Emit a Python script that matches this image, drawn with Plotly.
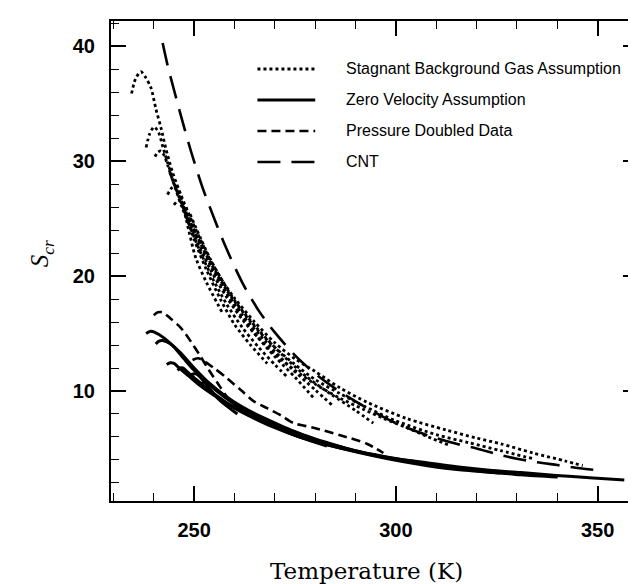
import plotly.graph_objects as go

# ---------------- data ----------------
# Stagnant Background Gas Assumption (dotted curves)
stag1_T = [234.5, 235.5, 236.8, 238.0, 239.3, 240.5, 241.8, 243.0, 244.6, 246.7, 248.8, 251.0, 254.0, 257.0, 260.0, 265.0, 270.0, 275.0, 280.0, 286.0, 293.0, 302.7, 312.5, 320.0, 326.0, 334.0, 342.0, 346.3]
stag1_S = [35.9, 37.2, 37.8, 37.3, 36.4, 34.6, 32.9, 31.1, 29.1, 27.1, 25.3, 23.6, 21.4, 19.6, 18.1, 16.0, 14.2, 12.8, 11.7, 10.3, 9.0, 7.6, 6.6, 5.9, 5.4, 4.6, 3.9, 3.5]
stag2_T = [238.1, 239.0, 240.1, 241.2, 242.3, 243.5, 245.0, 247.0, 250.0, 254.0, 258.0, 262.0, 266.0, 270.0, 275.0, 280.0, 286.0, 292.0, 300.0, 310.0, 318.0, 326.0, 334.0]
stag2_S = [31.2, 32.4, 33.0, 32.5, 31.2, 29.8, 28.2, 26.4, 24.0, 21.2, 18.8, 16.9, 15.2, 13.8, 12.3, 11.0, 9.8, 8.7, 7.4, 6.2, 5.5, 4.8, 4.1]
stag3_T = [240.3, 241.0, 241.8, 242.6, 243.5, 245.0, 247.0, 250.0, 254.0, 258.0, 262.0, 266.0, 270.0, 275.0, 280.0, 286.0, 292.0, 297.0, 302.7, 308.0, 313.0]
stag3_S = [30.4, 30.8, 30.9, 30.5, 29.6, 28.0, 26.0, 23.5, 20.6, 18.2, 16.2, 14.6, 13.2, 11.8, 10.6, 9.4, 8.4, 7.6, 6.8, 6.0, 5.3]
stag4_T = [243.4, 244.5, 245.5, 246.5, 248.0, 250.4, 253.0, 257.0]
stag4_S = [27.1, 27.7, 27.8, 27.2, 25.0, 21.6, 19.5, 16.8]
stag5_T = [245.0, 246.2, 247.5, 250.0, 253.0, 256.5, 260.0, 264.0, 268.1]
stag5_S = [26.2, 26.6, 25.8, 23.2, 20.6, 18.0, 15.8, 14.0, 12.4]
stag6_T = [244.0, 247.0, 250.0, 254.0, 258.0, 262.0, 266.0, 270.0, 273.0]
stag6_S = [29.0, 26.2, 23.4, 20.2, 17.6, 15.5, 13.8, 12.3, 11.25]
stag7_T = [246.0, 250.0, 255.0, 260.0, 265.0, 270.0, 275.0, 279.6]
stag7_S = [27.4, 23.9, 20.3, 17.4, 15.0, 13.0, 11.2, 9.4]
stag8_T = [248.0, 252.0, 257.0, 262.0, 268.0, 274.0, 280.0, 284.1]
stag8_S = [26.0, 22.6, 19.2, 16.6, 14.2, 12.0, 10.1, 8.8]
stag9_T = [249.0, 254.0, 260.0, 266.0, 272.0, 278.0, 284.0, 290.0, 294.4]
stag9_S = [25.4, 21.5, 17.9, 15.3, 13.1, 11.2, 9.7, 8.3, 7.2]

# Zero Velocity Assumption (solid curves)
zero1_T = [238.1, 239.2, 240.3, 242.6, 245.1, 247.5, 250.0, 252.5, 255.8, 259.0, 263.2, 267.3, 272.2, 277.0, 282.0, 287.8, 292.8, 299.0, 306.8, 315.0, 323.2, 331.0, 339.7, 348.0, 356.6]
zero1_S = [15.0, 15.2, 15.1, 14.6, 13.8, 12.8, 11.8, 11.0, 9.95, 9.1, 8.2, 7.5, 6.8, 6.2, 5.6, 5.0, 4.55, 4.15, 3.8, 3.4, 3.1, 2.9, 2.65, 2.45, 2.25]
zero2_T = [240.5, 241.3, 242.2, 244.2, 246.7, 250.0, 254.0, 258.0, 262.0, 267.0, 272.0, 278.0, 284.0, 290.0, 297.0, 302.0, 307.6]
zero2_S = [14.1, 14.35, 14.4, 14.1, 13.3, 12.0, 10.6, 9.5, 8.6, 7.7, 6.9, 6.0, 5.35, 4.8, 4.3, 4.0, 3.7]
zero3_T = [243.2, 244.1, 245.0, 246.0, 248.0, 251.0, 255.0, 260.0, 265.0, 270.0, 276.0, 282.0, 290.0, 298.0, 306.0, 314.0, 320.0, 325.7]
zero3_S = [12.3, 12.45, 12.4, 12.1, 11.5, 10.6, 9.6, 8.5, 7.6, 6.8, 6.0, 5.4, 4.7, 4.1, 3.6, 3.2, 3.0, 2.85]
zero4_T = [245.9, 246.6, 247.2, 248.2, 250.5, 254.0, 258.0, 263.0, 268.0, 274.0, 280.0, 288.0, 296.0, 305.0, 314.0, 322.0, 331.0, 340.1]
zero4_S = [11.8, 12.0, 12.0, 11.7, 11.0, 10.0, 9.0, 8.0, 7.2, 6.3, 5.6, 4.9, 4.3, 3.75, 3.3, 3.0, 2.7, 2.5]
zero5_T = [249.0, 250.5, 253.0, 256.0, 260.7]
zero5_S = [11.4, 11.5, 10.6, 9.3, 8.0]
zero6_T = [251.5, 253.0, 256.0, 260.0, 265.0, 270.0, 276.0, 282.9]
zero6_S = [10.6, 10.8, 10.0, 8.9, 7.8, 6.9, 6.0, 5.2]

# Pressure Doubled Data (dashed curves)
press1_T = [240.0, 241.0, 242.2, 244.2, 246.7, 249.2, 251.6, 253.7, 255.8, 257.8, 259.9, 262.3, 265.0]
press1_S = [16.6, 16.85, 16.85, 16.3, 15.5, 14.3, 13.0, 11.8, 10.7, 9.65, 8.8, 8.1, 7.7]
press2_T = [249.6, 251.0, 254.9, 258.2, 261.5, 264.8, 268.1, 271.4, 274.7, 279.6, 286.2, 292.8, 296.9]
press2_S = [12.7, 12.85, 12.0, 11.1, 10.1, 9.1, 8.5, 7.9, 7.2, 6.8, 6.15, 5.4, 4.6]

# CNT (long dash)
cnt_T = [242.2, 243.4, 245.1, 247.1, 249.2, 252.0, 255.0, 258.0, 262.0, 266.0, 270.0, 275.0, 280.0, 285.0, 290.0, 295.0, 300.0, 305.0, 310.0, 315.0, 320.0, 325.0, 330.0, 335.0, 340.0, 345.0, 350.0]
cnt_S = [40.3, 38.4, 36.1, 33.5, 30.9, 27.8, 25.0, 22.4, 19.4, 17.0, 15.1, 13.1, 11.5, 10.2, 9.1, 8.1, 7.2, 6.5, 5.9, 5.4, 5.0, 4.5, 4.1, 3.8, 3.55, 3.3, 3.1]

series_names = ["Stagnant Background Gas Assumption", "Zero Velocity Assumption",
                "Pressure Doubled Data", "CNT"]
x_tickvals = [250, 300, 350]
y_tickvals = [10, 20, 30, 40]

stag_curves = [(stag1_T, stag1_S), (stag2_T, stag2_S), (stag3_T, stag3_S), (stag4_T, stag4_S),
               (stag5_T, stag5_S), (stag6_T, stag6_S), (stag7_T, stag7_S), (stag8_T, stag8_S),
               (stag9_T, stag9_S)]
zero_curves = [(zero1_T, zero1_S), (zero2_T, zero2_S), (zero3_T, zero3_S), (zero4_T, zero4_S),
               (zero5_T, zero5_S), (zero6_T, zero6_S)]
press_curves = [(press1_T, press1_S), (press2_T, press2_S)]
cnt_curves = [(cnt_T, cnt_S)]

# ---------------- styles ----------------
styles = [
    dict(width=2.8, dash="3px,3px"),
    dict(width=3.0, dash="solid"),
    dict(width=2.6, dash="9px,5px"),
    dict(width=2.6, dash="23px,11px"),
]

fig = go.Figure()
for name, curves, st in zip(series_names, [stag_curves, zero_curves, press_curves, cnt_curves], styles):
    for i, (t, s) in enumerate(curves):
        fig.add_trace(go.Scatter(
            x=t, y=s, mode="lines", name=name, legendgroup=name, showlegend=False,
            line=dict(color="black", width=st["width"], dash=st["dash"], shape="spline", smoothing=0.8),
            hoverinfo="skip"))

# ---------------- layout ----------------
W, H = 636, 584
PL, PR, PT, PB = 103, 632, 13, 493


def px_x(p):
    return (p - PL) / (PR - PL)


def px_y(p):
    return (PB - p) / (PB - PT)


shapes = []
annotations = []
legend_rows = [61, 92, 123, 154]
for name, st, row in zip(series_names, styles, legend_rows):
    shapes.append(dict(type="line", xref="paper", yref="paper",
                       x0=px_x(250), x1=px_x(308), y0=px_y(row), y1=px_y(row),
                       line=dict(color="black", width=st["width"], dash=st["dash"])))
    annotations.append(dict(xref="paper", yref="paper", x=px_x(337), y=px_y(row),
                            xanchor="left", yanchor="middle", showarrow=False, text=name,
                            font=dict(family="Liberation Sans, Arial, sans-serif", size=16, color="black")))

annotations.append(dict(xref="paper", yref="paper", x=px_x(359), y=px_y(563),
                        xanchor="center", yanchor="middle", showarrow=False,
                        text="Temperature (K)",
                        font=dict(family="DejaVu Serif, serif", size=23, color="black")))
annotations.append(dict(xref="paper", yref="paper", x=px_x(33), y=px_y(246),
                        xanchor="center", yanchor="middle", showarrow=False, textangle=-90,
                        text="<i>S</i><sub><i>cr</i></sub>",
                        font=dict(family="Liberation Serif, Times New Roman, serif", size=25, color="black")))

tickfont = dict(family="Liberation Sans, Arial, sans-serif", size=20, color="black", weight="bold")

fig.update_layout(
    width=W, height=H,
    margin=dict(l=PL, r=W - PR, t=PT, b=H - PB, pad=0),
    paper_bgcolor="white", plot_bgcolor="white",
    showlegend=False,
    shapes=shapes, annotations=annotations,
    xaxis=dict(range=[229.4, 360.0], tickvals=x_tickvals, ticks="inside", ticklen=15, tickwidth=1.6,
               tickcolor="black", showline=True, linewidth=2, linecolor="black", mirror="ticks",
               showgrid=False, zeroline=False, tickfont=tickfont, ticklabelstandoff=10,
               minor=dict(dtick=10, tick0=0, ticks="inside", ticklen=8, tickwidth=1.4,
                          tickcolor="black", showgrid=False)),
    yaxis=dict(range=[0.42, 42.22], tickvals=y_tickvals, ticks="inside", ticklen=15, tickwidth=1.6,
               tickcolor="black", showline=True, linewidth=2, linecolor="black", mirror="ticks",
               showgrid=False, zeroline=False, tickfont=tickfont, ticklabelstandoff=10,
               minor=dict(dtick=2, tick0=0, ticks="inside", ticklen=8, tickwidth=1.4,
                          tickcolor="black", showgrid=False)),
)

fig.write_html("out.html")
